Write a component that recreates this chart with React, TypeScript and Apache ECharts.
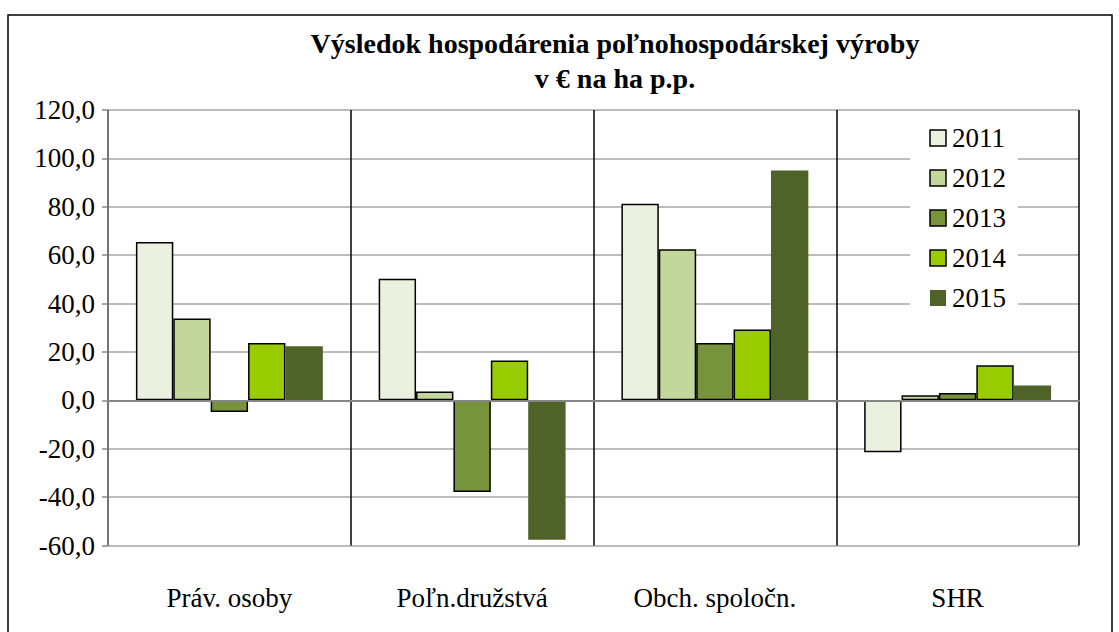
import React, { useEffect, useRef } from "react";
import * as echarts from "echarts";

const categories = ["Práv. osoby", "Poľn.družstvá", "Obch. spoločn.", "SHR"];
const years = ["2011", "2012", "2013", "2014", "2015"];
const values2011 = [65.4, 50.3, 81.3, -21.5];
const values2012 = [33.8, 3.7, 62.4, 2.1];
const values2013 = [-4.8, -37.9, 23.7, 3.0];
const values2014 = [23.7, 16.5, 29.3, 14.5];
const values2015 = [22.4, -57.6, 95.0, 6.1];
const seriesValues = [values2011, values2012, values2013, values2014, values2015];
const colors = ["#EBF1DE", "#C3D69B", "#77933C", "#99CC00", "#4F6228"];
const bordered = [true, true, true, true, false];
const titleText = "Výsledok hospodárenia poľnohospodárskej výroby\nv € na ha p.p.";

const FONT = "Liberation Serif";
const LABEL_FONT = `27px ${FONT}`;
const txt = { fontFamily: FONT, fontSize: 27, fontWeight: "normal", fontStyle: "normal", color: "#000" };

export default function App() {
  const ref = useRef<HTMLDivElement>(null);
  useEffect(() => {
    if (!ref.current) return;
    const chart = echarts.init(ref.current, undefined, { renderer: "svg" });
    const series: any[] = years.map((y, i) => ({
      name: y,
      type: "bar",
      data: seriesValues[i],
      barGap: "0%",
      barCategoryGap: "23%",
      itemStyle: {
        color: colors[i],
        borderColor: bordered[i] ? "#000" : colors[i],
        borderWidth: bordered[i] ? 1.5 : 0,
      },
      ...(i === 0
        ? {
            markLine: {
              silent: true,
              symbol: "none",
              label: { show: false },
              lineStyle: { color: "#868686", width: 2, type: "solid" },
              data: [{ yAxis: 0 }],
            },
          }
        : {}),
    }));

    // Legend (drawn as graphic elements, positioned like the reference's legend box)
    const g: any[] = [];
    const LX = 910;
    const LY = 118;
    g.push({
      type: "rect",
      z: 50,
      shape: { x: LX, y: LY, width: 108, height: 200 },
      style: { fill: "#fff", stroke: "none" },
    });
    years.forEach((y, i) => {
      const cy = LY + 20 + i * 40;
      g.push({
        type: "rect",
        z: 51,
        shape: { x: LX + 20, y: cy - 8, width: 16, height: 16 },
        style: {
          fill: colors[i],
          stroke: bordered[i] ? "#000" : "none",
          lineWidth: bordered[i] ? 1.5 : 0,
        },
      });
      g.push({
        type: "text",
        z: 51,
        x: LX + 42,
        y: cy,
        style: {
          text: y,
          fill: "#000",
          font: LABEL_FONT,
          textAlign: "left",
          textVerticalAlign: "middle",
        },
      });
    });
    g.push({
      type: "text",
      x: 615,
      y: 26,
      style: {
        text: titleText,
        fill: "#000",
        font: `bold 28px ${FONT}`,
        textAlign: "center",
        textVerticalAlign: "top",
        lineHeight: 35,
      },
    });
    g.push({
      type: "rect",
      z: 100,
      shape: { x: 8, y: 15, width: 1104, height: 640 },
      style: { fill: "none", stroke: "#000", lineWidth: 1.5 },
    });

    chart.setOption({
      animation: false,
      graphic: g,
      grid: { left: 108, right: 40, top: 110, bottom: 86.5, containLabel: false },
      xAxis: {
        type: "category",
        data: categories,
        axisLine: { show: true, lineStyle: { color: "#A6A6A6", width: 1.5 } },
        axisTick: { show: false },
        splitLine: { show: true, lineStyle: { color: "#000", width: 1.5 } },
        axisLabel: { ...txt, margin: 39 },
      },
      yAxis: {
        type: "value",
        min: -60,
        max: 120,
        interval: 20,
        axisLine: { show: true, lineStyle: { color: "#868686", width: 1.5 } },
        axisTick: { show: true, length: 6, lineStyle: { color: "#868686", width: 1.5 } },
        splitLine: { show: true, lineStyle: { color: "#A6A6A6", width: 1.5 } },
        axisLabel: {
          ...txt,
          margin: 13,
          formatter: (v: number) => v.toFixed(1).replace(".", ","),
        },
      },
      series,
    });
    return () => chart.dispose();
  }, []);
  return (
    <div
      ref={ref}
      style={{ position: "absolute", left: 0, top: 0, width: 1119, height: 632 }}
    />
  );
}
